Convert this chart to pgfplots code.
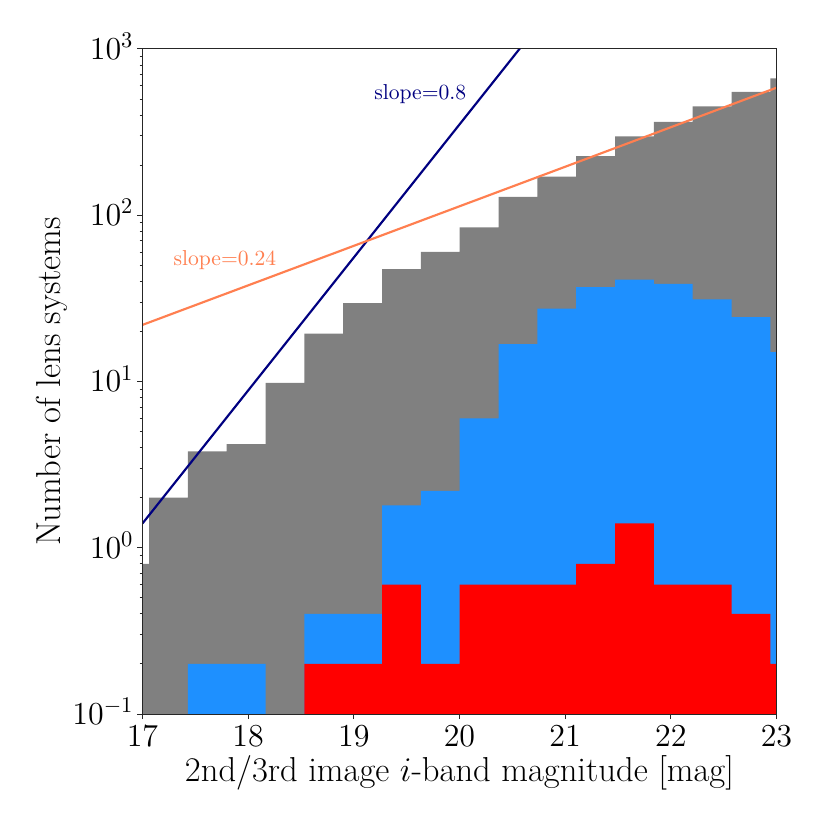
\RequirePackage{fix-cm}
\documentclass[border=0pt]{standalone}
\usepackage{pgfplots}
\pgfplotsset{compat=1.18}
\definecolor{histgray}{RGB}{128,128,128}
\definecolor{dodger}{RGB}{30,144,255}
\definecolor{coralc}{RGB}{255,127,80}
\definecolor{navyc}{RGB}{0,0,128}
\begin{document}
\begin{tikzpicture}
\begin{axis}[
 scale only axis, width=317pt, height=332.5pt,
 ymode=log, log origin=infty,
 xmin=17, xmax=23, ymin=0.1, ymax=1000,
 xtick={17,18,19,20,21,22,23},
 ytick={0.1,1,10,100,1000},
 tick align=outside, xtick pos=bottom, ytick pos=left,
 major tick length=2.5pt, minor tick length=1.4pt,
 every tick/.style={black!85, line width=0.5pt},
 axis line style={black!85, line width=0.5pt},
 tick label style={font=\fontsize{16}{19}\selectfont},
 label style={font=\fontsize{17.3}{20}\selectfont},
 xlabel={2nd/3rd image $i$-band magnitude [mag]},
 ylabel={Number of lens systems},
 xlabel style={at={(axis description cs:0.5,-0.1018)}, anchor=base},
 ylabel style={at={(axis description cs:-0.12855,0.5)}, anchor=base},
 yticklabel style={anchor=base east, yshift=-5.15pt, xshift=1.5pt},
 axis on top,
]
\addplot[ybar interval, fill=histgray, draw=none] coordinates {
(16.6945,0.8) (17.062,2.0) (17.4295,3.8) (17.797,4.2) (18.1645,9.8) (18.532,19.4) (18.8995,29.6) (19.267,47.4) (19.6345,60.2) (20.002,84.6) (20.3695,129) (20.737,171) (21.1045,227) (21.472,298) (21.8395,364) (22.207,452) (22.5745,553) (22.942,666) (23.3095,666)
};
\addplot[ybar interval, fill=dodger, draw=none] coordinates {
(17.4295,0.2) (17.797,0.2) (18.1645,0.1) (18.532,0.4) (18.8995,0.4) (19.267,1.8) (19.6345,2.2) (20.002,6.0) (20.3695,16.8) (20.737,27.4) (21.1045,37) (21.472,41) (21.8395,38.6) (22.207,31.2) (22.5745,24.4) (22.942,15) (23.3095,15)
};
\addplot[ybar interval, fill=red, draw=none] coordinates {
(18.532,0.2) (18.8995,0.2) (19.267,0.6) (19.6345,0.2) (20.002,0.6) (20.3695,0.6) (20.737,0.6) (21.1045,0.8) (21.472,1.4) (21.8395,0.6) (22.207,0.6) (22.5745,0.4) (22.942,0.2) (23.3095,0.2)
};
\addplot[navyc, line width=1.08pt] coordinates {(17,1.40) (20.6,1062)};
\addplot[coralc, line width=1.08pt] coordinates {(17,21.9) (23,585)};
\node[navyc, anchor=base west, inner sep=0pt, font=\fontsize{10.8}{13}\selectfont] at (axis cs:19.19,498) {slope=0.8};
\node[coralc, anchor=base west, inner sep=0pt, font=\fontsize{10.8}{13}\selectfont] at (axis cs:17.29,49.7) {slope=0.24};
\end{axis}
\pgfresetboundingbox
\path (current axis.south west) ++(-71.25pt,-58pt) rectangle ++(415pt,415pt);
\end{tikzpicture}
\end{document}
